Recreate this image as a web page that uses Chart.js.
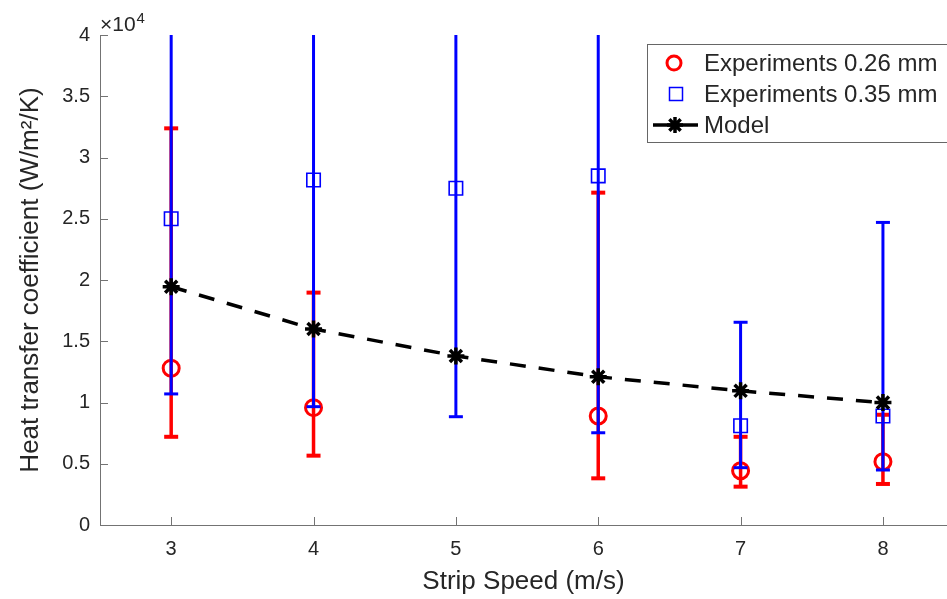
<!DOCTYPE html>
<html><head><meta charset="utf-8">
<script src="https://cdn.jsdelivr.net/npm/chart.js@4/dist/chart.umd.min.js"></script>
<style>html,body{margin:0;padding:0;background:#fff;overflow:hidden}</style>
</head><body>
<canvas id="c" width="947" height="599"></canvas>
<script>
// ---- data (W/m^2/K) ----
const speeds = [3, 4, 5, 6, 7, 8];
const modelValues = [19450, 16000, 13800, 12100, 10950, 9990];
const speeds026 = [3, 4, 6, 7, 8];
const exp026 = [12800, 9580, 8900, 4430, 5170];
const exp026Lower = [7200, 5660, 3810, 3130, 3350];
const exp026Upper = [32380, 18970, 27130, 7200, 9000];
const speeds035 = [3, 4, 5, 6, 7, 8];
const exp035 = [25000, 28160, 27490, 28500, 8100, 8900];
const exp035Lower = [10700, 9660, 8840, 7530, 4680, 4490];
const exp035Upper = [41000, 46500, 46200, 49500, 16550, 24700];
const xTickValues = [3, 4, 5, 6, 7, 8];
const yTickValues = [0, 5000, 10000, 15000, 20000, 25000, 30000, 35000, 40000];
const legendLabels = ['Experiments 0.26 mm', 'Experiments 0.35 mm', 'Model'];
const xTitle = 'Strip Speed (m/s)';
const yTitle = 'Heat transfer coefficient (W/m\u00B2/K)';

const FONT = '"Liberation Sans", Arial, Helvetica, sans-serif';
const TXT = '#262626';
const AX = '#737373';
const RED = '#ff0000', BLUE = '#0000ff', BLACK = '#000000';

const pts = (xs, ys) => xs.map((v, i) => ({x: v, y: ys[i]}));

const errorBarPlugin = {
  id: 'errbars',
  beforeDatasetDraw(chart, args) {
    const ds = chart.data.datasets[args.index];
    if (!ds.errLower) return;
    const {ctx, chartArea: a, scales: {x, y}} = chart;
    ctx.save();
    ctx.beginPath();
    ctx.rect(a.left, a.top, a.right - a.left, a.bottom - a.top + 4);
    ctx.clip();
    ctx.strokeStyle = ds.borderColor;
    ctx.lineCap = 'butt';
    ds.data.forEach((p, i) => {
      const px = x.getPixelForValue(p.x);
      const yl = y.getPixelForValue(ds.errLower[i]);
      const yu = y.getPixelForValue(ds.errUpper[i]);
      ctx.lineWidth = ds.errLineWidth;
      ctx.beginPath(); ctx.moveTo(px, yl); ctx.lineTo(px, yu); ctx.stroke();
      ctx.lineWidth = ds.errCapWidth;
      [yl, yu].forEach(yy => {
        ctx.beginPath(); ctx.moveTo(px - 7, yy); ctx.lineTo(px + 7, yy); ctx.stroke();
      });
    });
    ctx.restore();
  }
};

const decorPlugin = {
  id: 'decor',
  afterDraw(chart) {
    const {ctx, chartArea: a, scales: {x, y}} = chart;
    ctx.save();
    // inward ticks
    ctx.strokeStyle = AX; ctx.lineWidth = 1;
    yTickValues.forEach(v => {
      const py = Math.round(y.getPixelForValue(v)) + 0.5;
      ctx.beginPath(); ctx.moveTo(a.left, py); ctx.lineTo(a.left + 8, py); ctx.stroke();
    });
    xTickValues.forEach(v => {
      const px = Math.round(x.getPixelForValue(v)) + 0.5;
      ctx.beginPath(); ctx.moveTo(px, a.bottom); ctx.lineTo(px, a.bottom - 8); ctx.stroke();
    });
    // exponent label
    ctx.fillStyle = TXT;
    ctx.textBaseline = 'alphabetic'; ctx.textAlign = 'left';
    ctx.font = '21px ' + FONT;
    ctx.fillText('\u00D710', 100, 31);
    const w = ctx.measureText('\u00D710').width;
    ctx.font = '15px ' + FONT;
    ctx.fillText('4', 100 + w + 1, 23);
    // legend
    const lx = 647.5, ly = 44.5;
    ctx.fillStyle = '#ffffff';
    ctx.fillRect(lx, ly, 320, 98);
    ctx.strokeStyle = '#666666'; ctx.lineWidth = 1;
    ctx.strokeRect(lx, ly, 320, 98);
    const rows = [63, 94, 125];
    ctx.strokeStyle = RED; ctx.lineWidth = 3;
    ctx.beginPath(); ctx.arc(674, rows[0], 7, 0, Math.PI * 2); ctx.stroke();
    ctx.strokeStyle = BLUE; ctx.lineWidth = 1.5;
    ctx.strokeRect(669.5, rows[1] - 6.5, 13, 13);
    ctx.strokeStyle = BLACK; ctx.lineWidth = 3.5;
    ctx.beginPath(); ctx.moveTo(653, rows[2]); ctx.lineTo(698, rows[2]); ctx.stroke();
    Chart.helpers.drawPoint(ctx, {pointStyle: 'star', radius: 8, borderWidth: 3.5, rotation: 0}, 675, rows[2]);
    ctx.fillStyle = TXT;
    ctx.font = '24px ' + FONT;
    ctx.textBaseline = 'middle';
    legendLabels.forEach((t, i) => ctx.fillText(t, 704, rows[i] + 1));
    ctx.restore();
  }
};

const noPad = s => { s.paddingLeft = 0; s.paddingRight = 0; s.paddingTop = 0; s.paddingBottom = 0; };

new Chart(document.getElementById('c'), {
  type: 'scatter',
  data: {
    datasets: [
      {
        label: legendLabels[0], data: pts(speeds026, exp026),
        errLower: exp026Lower, errUpper: exp026Upper, errLineWidth: 3.5, errCapWidth: 4,
        showLine: false, pointStyle: 'circle', pointRadius: 8, pointHoverRadius: 8,
        borderWidth: 3, borderColor: RED, backgroundColor: 'rgba(0,0,0,0)', order: 3
      },
      {
        label: legendLabels[1], data: pts(speeds035, exp035),
        errLower: exp035Lower, errUpper: exp035Upper, errLineWidth: 3, errCapWidth: 3,
        showLine: false, pointStyle: 'rect', pointRadius: 9.5, pointHoverRadius: 9.5,
        borderWidth: 1.6, borderColor: BLUE, backgroundColor: 'rgba(0,0,0,0)', order: 2
      },
      {
        label: legendLabels[2], data: pts(speeds, modelValues),
        showLine: true, borderDash: [16, 13], borderWidth: 3.5, borderColor: BLACK,
        backgroundColor: BLACK, pointStyle: 'star', pointRadius: 8.5, pointHoverRadius: 8.5,
        pointBorderWidth: 3.5, tension: 0, order: 1
      }
    ]
  },
  options: {
    responsive: false, animation: false, devicePixelRatio: 1,
    layout: {autoPadding: false, padding: {top: 35, right: 0, left: 0, bottom: 0}},
    plugins: {legend: {display: false}, tooltip: {enabled: false}},
    scales: {
      x: {
        type: 'linear', min: 2.5, max: 8.45,
        afterFit: s => { s.height = 74; noPad(s); },
        afterBuildTicks: s => { s.ticks = xTickValues.map(v => ({value: v})); },
        grid: {display: false, tickLength: 0, drawTicks: false},
        border: {display: true, color: AX, width: 1},
        ticks: {color: TXT, font: {size: 20, family: FONT}, padding: 12, maxRotation: 0,
                callback: v => String(v)},
        title: {display: true, text: xTitle, color: TXT, font: {size: 26, family: FONT},
                padding: {top: 0, bottom: 2}}
      },
      y: {
        type: 'linear', min: 0, max: 40000,
        afterFit: s => { s.width = 100; noPad(s); },
        afterBuildTicks: s => { s.ticks = yTickValues.map(v => ({value: v})); },
        grid: {display: false, tickLength: 0, drawTicks: false},
        border: {display: true, color: AX, width: 1},
        ticks: {color: TXT, font: {size: 20, family: FONT}, padding: 10,
                callback: v => String(v / 10000)},
        title: {display: true, text: yTitle, color: TXT, font: {size: 26, family: FONT},
                padding: {top: 15, bottom: 0}}
      }
    }
  },
  plugins: [errorBarPlugin, decorPlugin]
});
</script>
</body></html>
